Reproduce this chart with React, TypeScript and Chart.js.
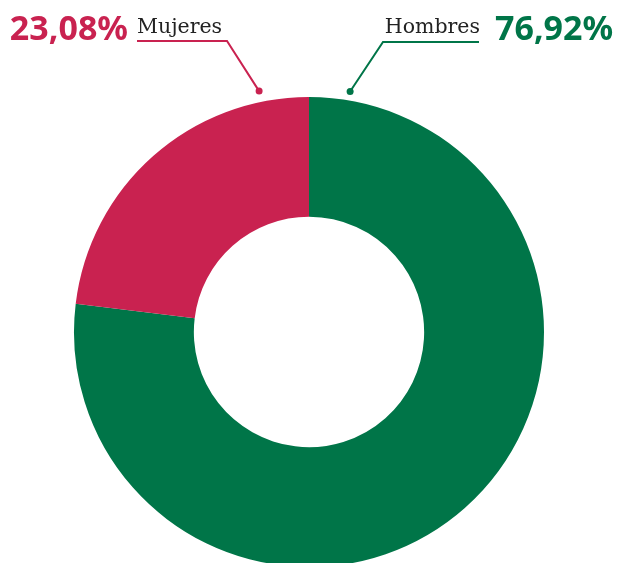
import React, { useEffect, useRef } from "react";
import { Chart, registerables } from "chart.js";

Chart.register(...registerables);

const categories = ["Hombres", "Mujeres"];
const values = [76.92, 23.08];
const valueLabels = ["76,92%", "23,08%"];
const colors = ["#007548", "#C92250"];

const labelPlugin = {
  id: "leaderLabels",
  afterDraw(chart: any) {
    const ctx = chart.ctx;
    const arc = chart.getDatasetMeta(0).data[0];
    if (!arc) return;
    const cx = arc.x;
    const cy = arc.y;
    const rad = (d: number) => (d * Math.PI) / 180;
    const pt = (deg: number, r: number) => [cx + r * Math.sin(rad(deg)), cy - r * Math.cos(rad(deg))];

    ctx.save();
    // Mujeres (left)
    const [mx, my] = pt(-11.7, arc.outerRadius + 11);
    ctx.strokeStyle = colors[1];
    ctx.fillStyle = colors[1];
    ctx.lineWidth = 2;
    ctx.beginPath();
    ctx.moveTo(137, 41);
    ctx.lineTo(227, 41);
    ctx.lineTo(mx, my);
    ctx.stroke();
    ctx.beginPath();
    ctx.arc(mx, my, 3.5, 0, Math.PI * 2);
    ctx.fill();
    ctx.font = "bold 34px 'Noto Sans'";
    ctx.textAlign = "right";
    ctx.textBaseline = "alphabetic";
    ctx.fillText(valueLabels[1], 128, 40);
    ctx.font = "20.5px 'DejaVu Serif'";
    ctx.fillStyle = "#222222";
    ctx.textAlign = "left";
    ctx.fillText(categories[1], 137, 33);

    // Hombres (right)
    const [hx, hy] = pt(9.7, arc.outerRadius + 9);
    ctx.strokeStyle = colors[0];
    ctx.fillStyle = colors[0];
    ctx.beginPath();
    ctx.moveTo(479, 42);
    ctx.lineTo(383, 42);
    ctx.lineTo(hx, hy);
    ctx.stroke();
    ctx.beginPath();
    ctx.arc(hx, hy, 3.5, 0, Math.PI * 2);
    ctx.fill();
    ctx.font = "bold 34px 'Noto Sans'";
    ctx.textAlign = "left";
    ctx.fillText(valueLabels[0], 495, 40);
    ctx.font = "20.5px 'DejaVu Serif'";
    ctx.fillStyle = "#222222";
    ctx.textAlign = "right";
    ctx.fillText(categories[0], 480, 33);
    ctx.restore();
  },
};

export default function App() {
  const ref = useRef<HTMLCanvasElement>(null);
  useEffect(() => {
    document.body.style.margin = "0";
    document.body.style.overflow = "hidden";
    const chart = new Chart(ref.current!, {
      type: "doughnut",
      data: {
        labels: categories,
        datasets: [
          {
            data: values,
            backgroundColor: colors,
            borderWidth: 0,
          },
        ],
      },
      options: {
        animation: false,
        responsive: false,
        maintainAspectRatio: false,
        cutout: "49%",
        layout: { padding: { top: 97, left: 1, right: 0, bottom: 0 } },
        plugins: {
          legend: { display: false },
          tooltip: { enabled: false },
        },
      },
      plugins: [labelPlugin],
    });
    return () => chart.destroy();
  }, []);
  return (
    <div style={{ width: 617, height: 563, overflow: "hidden" }}>
      <canvas ref={ref} width={617} height={567} style={{ display: "block" }} />
    </div>
  );
}
